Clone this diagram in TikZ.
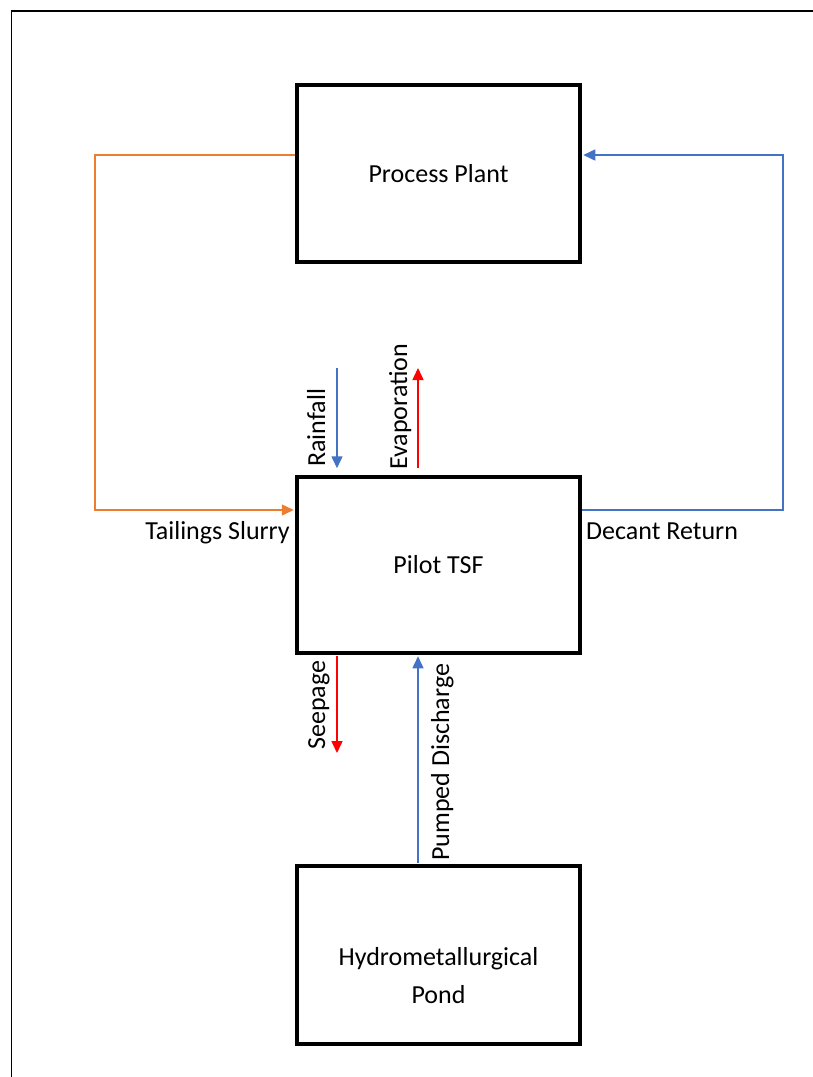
\documentclass[tikz,border=0pt]{standalone}
\usepackage{fontspec}
\setmainfont{Carlito}
\usetikzlibrary{arrows.meta}
\definecolor{orangeline}{HTML}{ED7D31}
\definecolor{blueline}{HTML}{4472C4}
\definecolor{redline}{HTML}{FF0000}
\tikzset{
  box/.style={draw=black, line width=3.5pt, minimum width=283pt, inner sep=0pt, align=center, font=\fontsize{26}{36}\selectfont},
  lbl/.style={inner sep=0pt, font=\fontsize{26}{32}\selectfont},
  vlbl/.style={lbl, rotate=90, anchor=base west},
  flow/.style={line width=1.5pt, -{Triangle[width=11pt,length=12pt]}},
}
\begin{document}
\begin{tikzpicture}[x=1pt,y=-1pt]
\useasboundingbox (0,0) rectangle (813,1077);
% outer frame (extends past the page)
\draw[line width=1.5pt] (11.5,1077) -- (11.5,11) -- (813,11);

\node[box, minimum height=177pt] (pp) at (438.5,173.5) {Process Plant};
\node[box, minimum height=176pt] (tsf) at (438.5,565) {Pilot TSF};
\node[box, minimum height=178pt] (pond) at (438.5,955) {};
\node[lbl, align=center, font=\fontsize{26}{38}\selectfont] (pondtxt) at (438.5,976) {Hydrometallurgical\\Pond};

% Tailings slurry
\coordinate (tl) at (95,155);
\draw[flow, orangeline, shorten >=1.5pt] ([yshift=18.5pt]pp.west) -- (tl) |- ([yshift=55pt]tsf.west);
\node[lbl, anchor=base east] (tslbl) at (290,539) {Tailings Slurry};

% Decant return
\coordinate (tr) at (783,155);
\draw[flow, blueline, shorten >=1.5pt] ([yshift=55pt]tsf.east) -| (tr) -- ([yshift=18.5pt]pp.east);
\node[lbl, anchor=base west] (drlbl) at (586,539) {Decant Return};

% Rainfall
\coordinate (rain) at (337,368);
\draw[flow, blueline, shorten >=7pt] (rain) -- (rain |- tsf.north);
\node[vlbl] (rainlbl) at (325,467) {Rainfall};

% Evaporation
\coordinate (evap) at (418,368);
\draw[flow, redline, shorten <=7pt] (evap |- tsf.north) -- (evap);
\node[vlbl] (evaplbl) at (407,470) {Evaporation};

% Seepage
\coordinate (seep) at (337,753);
\draw[flow, redline, shorten <=1.5pt] (seep |- tsf.south) -- (seep);
\node[vlbl] (seeplbl) at (325,750) {Seepage};

% Pumped discharge
\coordinate (pump) at (418,0);
\draw[flow, blueline, shorten <=1.5pt, shorten >=1.5pt] (pump |- pond.north) -- (pump |- tsf.south);
\node[vlbl] (pumplbl) at (449,861) {Pumped Discharge};
\end{tikzpicture}
\end{document}
